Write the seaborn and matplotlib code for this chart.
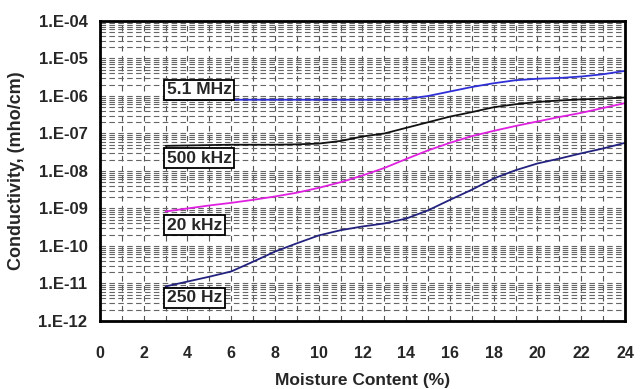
import numpy as np
import pandas as pd
import matplotlib
matplotlib.use("Agg")
import matplotlib.pyplot as plt
import matplotlib.ticker as mticker
import seaborn as sns

# moisture content (%)
moisture = list(range(3, 25))

# log10 of conductivity (mho/cm)
log_5mhz = [-6.10, -6.10, -6.10, -6.10, -6.10, -6.10, -6.10, -6.10, -6.10, -6.10, -6.10, -6.08,
            -6.00, -5.88, -5.76, -5.66, -5.58, -5.54, -5.52, -5.48, -5.42, -5.33]
log_500k = [-7.33, -7.32, -7.31, -7.30, -7.30, -7.30, -7.29, -7.27, -7.20, -7.08, -7.00, -6.85,
            -6.70, -6.55, -6.43, -6.30, -6.22, -6.16, -6.12, -6.09, -6.07, -6.04]
log_20k = [-9.08, -9.00, -8.92, -8.85, -8.77, -8.68, -8.58, -8.45, -8.30, -8.12, -7.92, -7.68,
           -7.45, -7.25, -7.07, -6.93, -6.80, -6.68, -6.56, -6.45, -6.32, -6.19]
log_250 = [-11.08, -10.95, -10.82, -10.68, -10.42, -10.15, -9.93, -9.72, -9.58, -9.48, -9.40, -9.27,
           -9.05, -8.77, -8.50, -8.20, -7.98, -7.80, -7.67, -7.53, -7.40, -7.25]

series = ["5.1 MHz", "500 kHz", "20 kHz", "250 Hz"]
colors = {"5.1 MHz": "#2f2fd8", "500 kHz": "#111111", "20 kHz": "#e020e0", "250 Hz": "#23237f"}
label_y = {"5.1 MHz": 1.45e-6, "500 kHz": 2.2e-8, "20 kHz": 3.6e-10, "250 Hz": 4.1e-12}

frames = []
for name, vals in zip(series, [log_5mhz, log_500k, log_20k, log_250]):
    frames.append(pd.DataFrame({"x": moisture, "y": 10.0 ** np.array(vals), "freq": name}))
df = pd.concat(frames)

sns.set_style("white")
plt.rcParams["font.family"] = ["Liberation Sans", "DejaVu Sans"]

fig = plt.figure(figsize=(6.41, 3.89), dpi=100)
ax = fig.add_axes([0.156, 0.175, 0.819, 0.771])

ax.set_yscale("log")
ax.set_xlim(0, 24)
ax.set_ylim(1e-12, 1e-4)

# grid
ax.xaxis.set_major_locator(mticker.MultipleLocator(2))
ax.xaxis.set_minor_locator(mticker.MultipleLocator(1))
ax.yaxis.set_major_locator(mticker.LogLocator(base=10, numticks=20))
ax.yaxis.set_minor_locator(mticker.LogLocator(base=10, subs=np.arange(2, 10), numticks=20))
ax.grid(True, which="both", axis="x", color="#555555", linestyle=(0, (5, 4)), linewidth=0.8)
ax.grid(True, which="both", axis="y", color="#666666", linestyle=(0, (5, 3)), linewidth=0.8)

sns.lineplot(data=df, x="x", y="y", hue="freq", palette=colors, legend=False,
             linewidth=1.3, ax=ax)

for name in series:
    ax.text(3.05, label_y[name], name, fontsize=12.5, fontweight="bold", va="center", ha="left",
            bbox=dict(boxstyle="square,pad=0.15", facecolor="white", edgecolor="black", linewidth=1.3),
            zorder=5)

ax.yaxis.set_major_formatter(mticker.FuncFormatter(lambda v, p: "1.E-%02d" % round(-np.log10(v))))
ax.yaxis.set_minor_formatter(mticker.NullFormatter())
ax.tick_params(axis="x", which="major", labelsize=11.5, direction="in", length=4, pad=18)
ax.tick_params(axis="y", which="major", labelsize=12, direction="in", length=4, pad=9)
ax.tick_params(axis="both", which="minor", direction="in", length=2)
for lab in ax.get_xticklabels() + ax.get_yticklabels():
    lab.set_fontweight("bold")

for sp in ax.spines.values():
    sp.set_linewidth(2)
    sp.set_color("black")

ax.set_xlabel("Moisture Content (%)", fontsize=12.5, fontweight="bold")
ax.set_ylabel("Conductivity, (mho/cm)", fontsize=13, fontweight="bold")
ax.xaxis.set_label_coords(0.5, -0.175)
ax.yaxis.set_label_coords(-0.142, 0.5)

fig.savefig("out.png", dpi=100)
